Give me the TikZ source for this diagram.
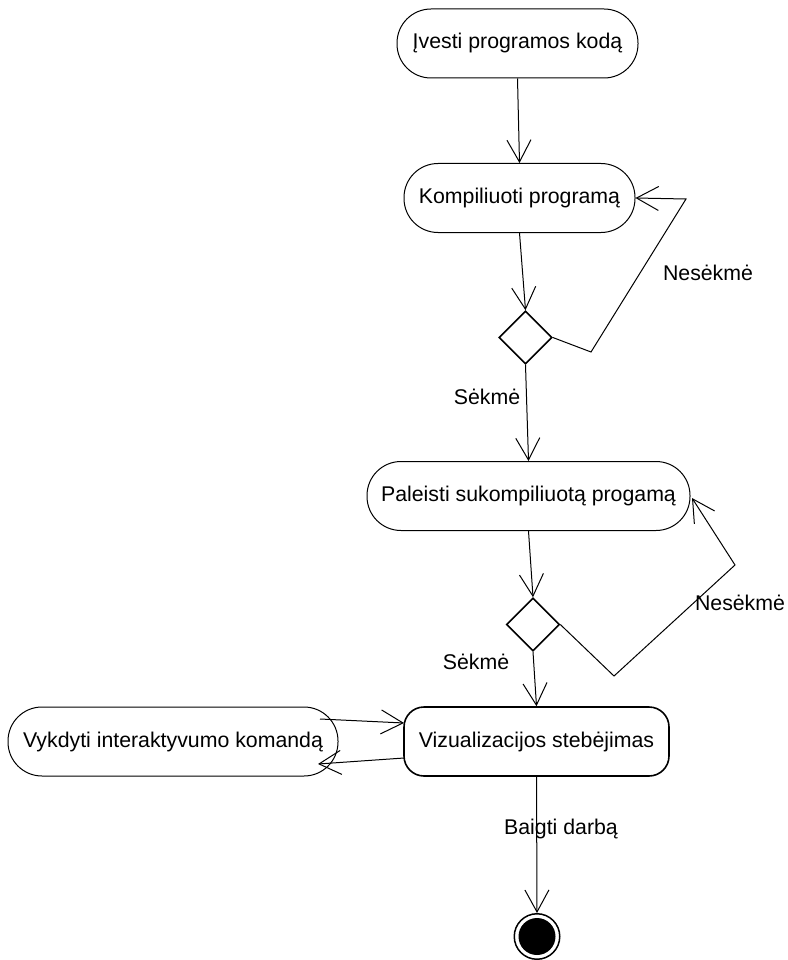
\documentclass[tikz,border=0pt]{standalone}
\usepackage{fontspec}
\setmainfont{Liberation Sans}
\usetikzlibrary{arrows.meta,shapes.geometric}
\begin{document}
\begin{tikzpicture}[x=1pt,y=-1pt,
  every node/.style={font=\fontsize{21.3}{25}\selectfont},
  action/.style={draw, line width=1pt, rectangle, rounded corners=34pt,
    minimum height=69pt, inner sep=0pt},
  activebox/.style={draw, line width=1.6pt, rectangle, rounded corners=20pt,
    minimum height=69pt, inner sep=0pt},
  choice/.style={draw, line width=1.6pt, diamond, minimum size=53pt,
    inner sep=0pt},
  flow/.style={draw, line width=1pt, line join=miter,
    -{Straight Barb[length=22pt,width=24pt,line width=1pt]}},
  guard/.style={inner sep=0pt}
]
\useasboundingbox (0,0) rectangle (787,960);

% activities
\node[action, minimum width=241pt] (enter)   at (517.5,43.5)  {Įvesti programos kodą};
\node[action, minimum width=231pt] (compile) at (519.5,198)   {Kompiliuoti programą};
\node[choice] (dA) at (525.5,337.5) {};
\node[action, minimum width=323pt] (run)     at (528.5,496)   {Paleisti sukompiliuotą progamą};
\node[choice] (dB) at (533,624.5) {};
\node[action, minimum width=330pt] (cmd)     at (173,741.5)   {Vykdyti interaktyvumo komandą};
\node[activebox, minimum width=265pt] (view) at (536.5,741.5) {Vizualizacijos stebėjimas};

% final state: ring with a filled disc inside
\node[circle, draw, line width=1.5pt, minimum size=45.5pt, inner sep=0pt] (stop) at (537,936.5) {};
\fill (stop.center) circle[radius=18.5pt];

% bends and loose ends of connectors
\coordinate (a1) at (591,352);
\coordinate (a2) at (686,199);
\coordinate (b1) at (614,676);
\coordinate (b2) at (735,565);
\coordinate (runIn) at (692,498);
\coordinate (cmdOut) at (320,719);
\coordinate (viewIn) at (404,723);
\coordinate (viewOut) at (404,758);
\coordinate (cmdIn) at (318,764);

% connectors
\draw[flow] (enter.south) -- (compile.north);
\draw[flow] (compile.south) -- (dA.north);
\draw[flow] (dA.east) -- (a1) -- (a2) -- (compile.east);
\draw[flow] (dA.south) -- (run.north);
\draw[flow] (run.south) -- (dB.north);
\draw[flow] (dB.east) -- (b1) -- (b2) -- (runIn);
\draw[flow] (dB.south) -- (view.north);
\draw[flow] (cmdOut) -- (viewIn);
\draw[flow] (viewOut) -- (cmdIn);
\draw[flow] (view.south) -- (stop.north);

% guards
\node[guard] (g1) at (708,273) {Nesėkmė};
\node[guard] (g2) at (487,397) {Sėkmė};
\node[guard] (g3) at (740,603) {Nesėkmė};
\node[guard] (g4) at (476,662) {Sėkmė};
\node[guard] (g5) at (561,829) {Baigti darbą};
\end{tikzpicture}
\end{document}
